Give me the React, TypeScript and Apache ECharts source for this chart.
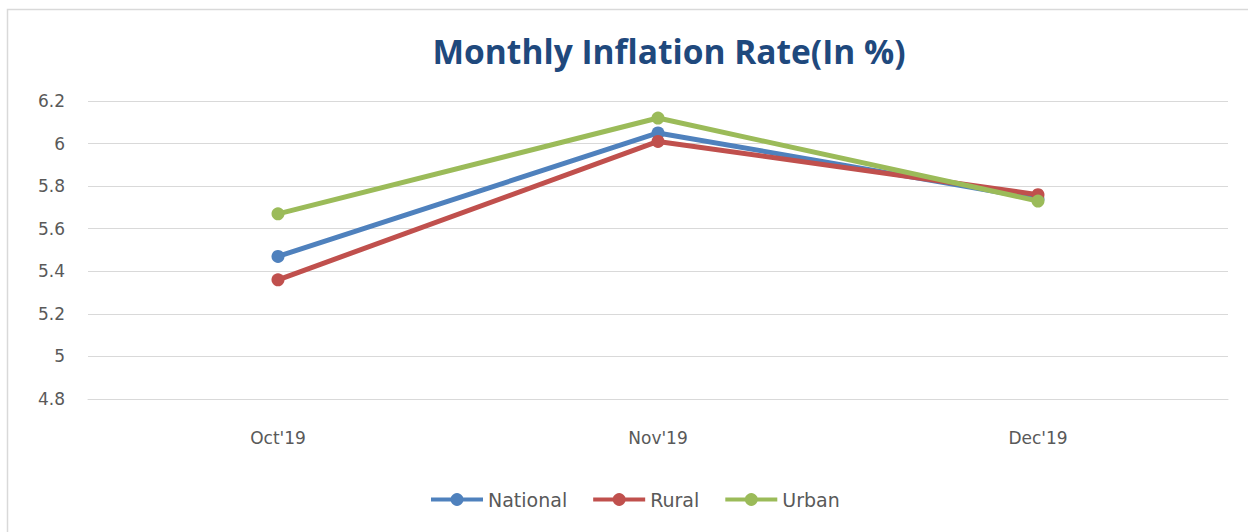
import React, { useEffect, useRef } from "react";
import * as echarts from "echarts";

const categories = ["Oct'19", "Nov'19", "Dec'19"];
const national = [5.47, 6.05, 5.74];
const rural = [5.36, 6.01, 5.76];
const urban = [5.67, 6.12, 5.73];
const seriesNames = ["National", "Rural", "Urban"];
const colors = ["#4F81BD", "#C0504D", "#9BBB59"];

export default function App() {
  const ref = useRef<HTMLDivElement>(null);
  useEffect(() => {
    document.body.style.margin = "0";
    const chart = echarts.init(ref.current!, undefined, { renderer: "svg" });
    const data = [national, rural, urban];
    chart.setOption({
      animation: false,
      backgroundColor: "#ffffff",
      title: {
        text: "Monthly Inflation Rate(In %)",
        left: 664,
        textAlign: "center",
        top: 29,
        textStyle: {
          fontFamily: "Open Sans",
          fontWeight: "bold",
          fontSize: 33.5,
          color: "#1F497D",
        },
      },
      graphic: [
        {
          type: "rect",
          shape: { x: 7.5, y: 9.5, width: 1260, height: 540 },
          style: { fill: "none", stroke: "#D9D9D9", lineWidth: 1.5 },
          silent: true,
        },
      ],
      legend: {
        bottom: 18,
        left: 424,
        itemWidth: 52,
        itemHeight: 16,
        itemGap: 24,
        lineStyle: { width: 4 },
        textStyle: { fontFamily: "DejaVu Sans", fontSize: 19, color: "#595959" },
        data: seriesNames,
      },
      grid: { left: 88, right: 20, top: 101, bottom: 133 },
      xAxis: {
        type: "category",
        data: categories,
        boundaryGap: true,
        axisLine: { show: true, lineStyle: { color: "#D9D9D9", width: 1 } },
        axisTick: { show: false },
        axisLabel: {
          fontFamily: "DejaVu Sans",
          fontSize: 17,
          color: "#595959",
          margin: 30,
        },
      },
      yAxis: {
        type: "value",
        min: 4.8,
        max: 6.2,
        interval: 0.2,
        axisLine: { show: false },
        axisTick: { show: false },
        splitLine: { lineStyle: { color: "#D9D9D9", width: 1 } },
        axisLabel: {
          fontFamily: "DejaVu Sans",
          fontSize: 17,
          color: "#595959",
          margin: 23,
          formatter: (v: number) => String(parseFloat(v.toFixed(1))),
        },
      },
      series: seriesNames.map((name, i) => ({
        name,
        type: "line",
        data: data[i],
        symbol: "circle",
        symbolSize: 13,
        lineStyle: { width: 5, color: colors[i] },
        itemStyle: { color: colors[i] },
        z: 2 + i,
      })),
    });
    return () => chart.dispose();
  }, []);
  return <div ref={ref} style={{ width: 1248, height: 532 }} />;
}
